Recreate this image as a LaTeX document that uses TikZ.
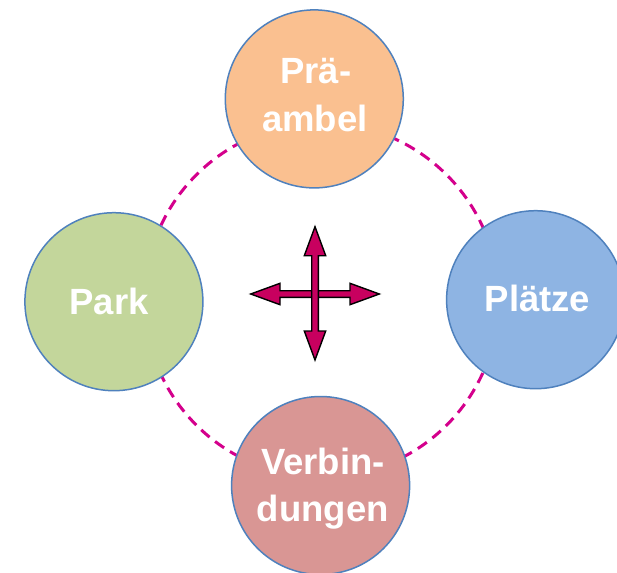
\documentclass[tikz,border=0pt]{standalone}
\usepackage{fontspec}
\setmainfont{Liberation Sans}
\definecolor{dashmag}{RGB}{212,0,140}
\definecolor{arrmag}{RGB}{200,0,95}
\definecolor{cborder}{RGB}{79,129,189}
\definecolor{corange}{RGB}{250,192,144}
\definecolor{cgreen}{RGB}{195,214,155}
\definecolor{cblue}{RGB}{142,180,227}
\definecolor{cred}{RGB}{217,150,148}
\tikzset{
  topic/.style={circle, draw=cborder, line width=1.5pt, minimum size=178pt, inner sep=0pt},
  lbl/.style={text=white, font=\fontsize{36.5}{48}\selectfont\bfseries, anchor=base, inner sep=0pt},
  dashring/.style={draw=dashmag, line width=3pt, dash pattern=on 11pt off 7pt},
  arrshape/.style={fill=arrmag, draw=black, line width=1.4pt, line join=miter}
}
\begin{document}
\begin{tikzpicture}[x=1pt, y=-1pt]
\useasboundingbox (0,0) rectangle (617,572);
\fill[white] (0,0) rectangle (617,572);
% dashed ring behind the topics
\coordinate (ringc) at (321.5,300);
\draw[dashring] (ringc) circle[radius=177pt];
% topic circles
\node[topic, fill=corange] (pre) at (314.3,98.9) {};
\node[topic, fill=cgreen] (park) at (113.9,301.7) {};
\node[topic, fill=cblue] (plaetze) at (535.6,299.7) {};
\node[topic, fill=cred] (verb) at (320.6,485.5) {};
% labels
\node[lbl] (preA) at (315.8,83.2) {Prä-};
\node[lbl] (preB) at (314.8,131.3) {ambel};
\node[lbl] (parkL) at (109,314.5) {Park};
\node[lbl] (plaetzeL) at (537.5,311.9) {Plätze};
\node[lbl] (verbA) at (323,474.3) {Verbin-};
\node[lbl] (verbB) at (322.7,521.7) {dungen};
% central cross of arrows
\coordinate (cross) at (315,294);
\draw[arrshape] (250.7,294) -- (280,283.3) -- (280,290.7) -- (350,290.7) -- (350,283.3)
  -- (379.3,294) -- (350,304.7) -- (350,297.3) -- (280,297.3) -- (280,304.7) -- cycle;
\draw[arrshape] (315,226.7) -- (325.7,255.7) -- (318.3,255.7) -- (318.3,331) -- (325.7,331)
  -- (315,360) -- (304.3,331) -- (311.7,331) -- (311.7,255.7) -- (304.3,255.7) -- cycle;
\end{tikzpicture}
\end{document}
